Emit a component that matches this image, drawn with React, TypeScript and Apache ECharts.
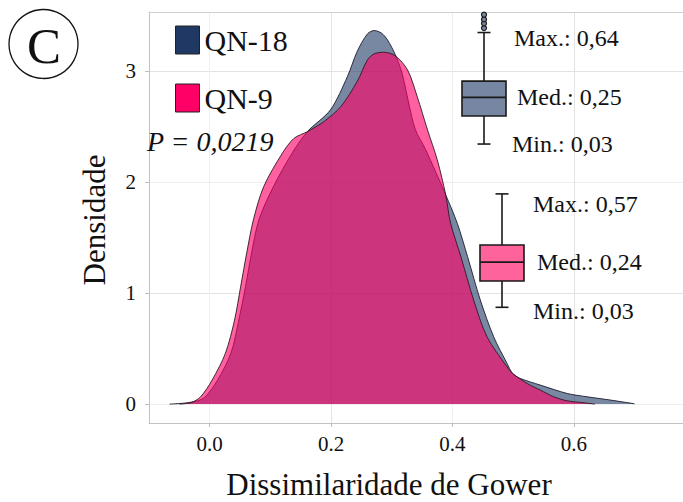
import React, { useEffect, useRef } from "react";
import * as echarts from "echarts";

// Density curve of QN-18 (x = Gower dissimilarity, d = density)
const qn18X = [-0.066, -0.04, -0.02, -0.007, 0.013, 0.035, 0.048, 0.059, 0.069, 0.081, 0.105, 0.136, 0.161, 0.199, 0.227, 0.243, 0.26, 0.271, 0.283, 0.293, 0.306, 0.317, 0.328, 0.339, 0.356, 0.389, 0.408, 0.425, 0.446, 0.468, 0.49, 0.499, 0.512, 0.545, 0.589, 0.622, 0.661, 0.7];
const qn18D = [0, 0.01, 0.03, 0.066, 0.216, 0.459, 0.757, 1.057, 1.36, 1.658, 1.958, 2.261, 2.453, 2.649, 2.949, 3.174, 3.333, 3.363, 3.34, 3.279, 3.144, 2.98, 2.71, 2.47, 2.29, 1.883, 1.628, 1.327, 0.937, 0.606, 0.367, 0.277, 0.231, 0.171, 0.096, 0.066, 0.036, 0.003];

// Density curve of QN-9
const qn9X = [-0.05, -0.03, -0.015, 0.004, 0.026, 0.041, 0.051, 0.061, 0.072, 0.089, 0.12, 0.139, 0.161, 0.188, 0.216, 0.243, 0.26, 0.271, 0.287, 0.306, 0.326, 0.342, 0.359, 0.375, 0.389, 0.397, 0.414, 0.435, 0.457, 0.49, 0.499, 0.523, 0.545, 0.567, 0.589, 0.617, 0.635];
const qn9D = [0, 0.015, 0.066, 0.216, 0.459, 0.757, 1.057, 1.36, 1.658, 1.958, 2.261, 2.393, 2.453, 2.543, 2.678, 2.904, 3.099, 3.153, 3.168, 3.135, 3.009, 2.768, 2.468, 2.2, 1.883, 1.628, 1.327, 0.937, 0.606, 0.336, 0.277, 0.186, 0.126, 0.066, 0.03, 0.012, 0];

const xTicks = [0, 0.2, 0.4, 0.6];
const yTicks = [0, 1, 2, 3];
const seriesNames = ["QN-18", "QN-9"];

// Inset box plots: [lower whisker, Q1, median, Q3, upper whisker]
const qn18Box = [0.03, 0.162, 0.25, 0.327, 0.556];
const qn18Outliers = [0.577, 0.599, 0.618, 0.64];
const qn9Box = [0.03, 0.155, 0.245, 0.327, 0.57];

const boxLabels18 = ["Max.: 0,64", "Med.: 0,25", "Min.: 0,03"];
const boxLabels9 = ["Max.: 0,57", "Med.: 0,24", "Min.: 0,03"];
const pValueText = "P = 0,0219";
const panelLetter = "C";
const xTitle = "Dissimilaridade de Gower";
const yTitle = "Densidade";

const SERIF = "'Liberation Serif', 'Times New Roman', serif";
const INK = "#1a1a1a";

function boxRenderer(halfW: number, capHalf: number, fill: string) {
  return (params: any, api: any) => {
    const pMin = api.coord([0, api.value(1)]);
    const pQ1 = api.coord([0, api.value(2)]);
    const pMed = api.coord([0, api.value(3)]);
    const pQ3 = api.coord([0, api.value(4)]);
    const pMax = api.coord([0, api.value(5)]);
    const x = pMin[0];
    const line = (x1: number, y1: number, x2: number, y2: number) => ({
      type: "line",
      shape: { x1, y1, x2, y2 },
      style: { stroke: INK, lineWidth: 1.6 },
    });
    return {
      type: "group",
      children: [
        line(x, pMin[1], x, pQ1[1]),
        line(x, pQ3[1], x, pMax[1]),
        line(x - capHalf, pMin[1], x + capHalf, pMin[1]),
        line(x - capHalf, pMax[1], x + capHalf, pMax[1]),
        {
          type: "rect",
          shape: { x: x - halfW, y: pQ3[1], width: 2 * halfW, height: pQ1[1] - pQ3[1] },
          style: { fill, stroke: INK, lineWidth: 1.6 },
        },
        line(x - halfW, pMed[1], x + halfW, pMed[1]),
      ],
    };
  };
}

function txt(text: string, x: number, y: number, size: number, opts: any = {}) {
  return {
    type: "text",
    x,
    y,
    rotation: opts.rotation || 0,
    style: {
      text,
      font: `${opts.italic ? "italic " : ""}${size}px ${SERIF}`,
      fill: "#111",
      align: opts.align || "left",
      verticalAlign: "middle",
    },
    z: 100,
  };
}

export default function App() {
  const ref = useRef<HTMLDivElement>(null);
  useEffect(() => {
    if (!ref.current) return;
    const chart = echarts.init(ref.current, undefined, { renderer: "svg" });
    const hiddenAxis = { show: false };
    const option: any = {
      animation: false,
      backgroundColor: "#ffffff",
      grid: [
        { left: 149, top: 12, right: 0, height: 411 },
        { left: 454, top: 2, width: 60, height: 148.4 },
        { left: 472, top: 166.6, width: 60, height: 147 },
      ],
      xAxis: [
        {
          gridIndex: 0,
          type: "value",
          min: -0.1,
          max: 0.78,
          interval: 0.1,
          axisLine: { show: true, onZero: false, lineStyle: { color: "#c2c2c2", width: 1 } },
          axisTick: { show: true, customValues: xTicks, length: 4, lineStyle: { color: "#bdbdbd" } },
          axisLabel: {
            customValues: xTicks,
            formatter: (v: number) => v.toFixed(1),
            fontFamily: SERIF,
            fontSize: 21,
            color: "#111",
            margin: 10,
          },
          splitLine: { show: true, lineStyle: { color: ["#efefef", "#e3e3e3"], width: 1 } },
        },
        {
          gridIndex: 0,
          type: "value",
          position: "top",
          min: -0.1,
          max: 0.78,
          interval: 0.1,
          axisLine: { show: true, onZero: false, lineStyle: { color: "#d0d0d0", width: 1 } },
          axisTick: { show: false },
          axisLabel: { show: false },
          splitLine: { show: false },
        },
        { gridIndex: 1, type: "value", min: -1, max: 1, ...hiddenAxis },
        { gridIndex: 2, type: "value", min: -1, max: 1, ...hiddenAxis },
      ],
      yAxis: [
        {
          gridIndex: 0,
          type: "value",
          min: -0.17,
          max: 3.53,
          splitNumber: 7,
          minInterval: 0.5,
          maxInterval: 0.5,
          axisLine: { show: true, onZero: false, lineStyle: { color: "#c2c2c2", width: 1 } },
          axisTick: { show: true, customValues: yTicks, length: 4, lineStyle: { color: "#bdbdbd" } },
          axisLabel: {
            customValues: yTicks,
            formatter: (v: number) => String(v),
            fontFamily: SERIF,
            fontSize: 21,
            color: "#111",
            margin: 13,
          },
          splitLine: { show: true, lineStyle: { color: ["#efefef", "#e3e3e3"], width: 1 } },
        },
        { gridIndex: 1, type: "value", min: 0, max: 0.7, ...hiddenAxis },
        { gridIndex: 2, type: "value", min: 0, max: 0.7, ...hiddenAxis },
      ],
      legend: {
        left: 170,
        top: 20,
        orient: "vertical",
        icon: "rect",
        itemWidth: 24,
        itemHeight: 28,
        itemGap: 28,
        selectedMode: false,
        textStyle: { fontFamily: SERIF, fontSize: 30, color: "#111" },
        data: [
          { name: seriesNames[0], itemStyle: { color: "#1f3864", borderColor: "#222", borderWidth: 1 } },
          { name: seriesNames[1], itemStyle: { color: "#ff0066", borderColor: "#222", borderWidth: 1 } },
        ],
      },
      series: [
        {
          name: seriesNames[0],
          type: "line",
          xAxisIndex: 0,
          yAxisIndex: 0,
          data: qn18X.map((x, i) => [x, qn18D[i]]),
          smooth: 0.3,
          symbol: "none",
          itemStyle: { color: "#1f3864" },
          lineStyle: { color: "#1c1c2c", width: 0.9 },
          areaStyle: { color: "#1f3864", opacity: 0.6 },
          z: 2,
        },
        {
          name: seriesNames[1],
          type: "line",
          xAxisIndex: 0,
          yAxisIndex: 0,
          data: qn9X.map((x, i) => [x, qn9D[i]]),
          smooth: 0.3,
          symbol: "none",
          itemStyle: { color: "#ff0066" },
          lineStyle: { color: "#2c1a24", width: 0.9 },
          areaStyle: { color: "#ff0066", opacity: 0.62 },
          z: 3,
        },
        {
          type: "custom",
          xAxisIndex: 2,
          yAxisIndex: 1,
          renderItem: boxRenderer(22, 6.5, "#7787a3"),
          data: [[0, ...qn18Box]],
          encode: { x: 0, y: [1, 2, 3, 4, 5] },
          z: 5,
        },
        {
          type: "scatter",
          xAxisIndex: 2,
          yAxisIndex: 1,
          data: qn18Outliers.map((v) => [0, v]),
          symbol: "circle",
          symbolSize: 5,
          itemStyle: { color: "#7787a3", borderColor: INK, borderWidth: 1.2, opacity: 1 },
          z: 6,
        },
        {
          type: "custom",
          xAxisIndex: 3,
          yAxisIndex: 2,
          renderItem: boxRenderer(22, 6.5, "#ff639c"),
          data: [[0, ...qn9Box]],
          encode: { x: 0, y: [1, 2, 3, 4, 5] },
          z: 5,
        },
      ],
      graphic: [
        {
          type: "circle",
          shape: { cx: 43.5, cy: 44, r: 34.5 },
          style: { fill: "none", stroke: "#111", lineWidth: 1.3 },
        },
        txt(panelLetter, 44, 46, 51, { align: "center" }),
        txt(pValueText, 147, 141, 28, { italic: true }),
        txt(boxLabels18[0], 514, 38, 24),
        txt(boxLabels18[1], 517, 97, 24),
        txt(boxLabels18[2], 512, 144, 24),
        txt(boxLabels9[0], 533, 204, 24),
        txt(boxLabels9[1], 537, 262, 24),
        txt(boxLabels9[2], 533, 311, 24),
        txt(xTitle, 389, 484, 31, { align: "center" }),
        txt(yTitle, 94, 220, 31, { align: "center", rotation: Math.PI / 2 }),
      ],
    };
    chart.setOption(option);
    return () => chart.dispose();
  }, []);
  return (
    <div
      ref={ref}
      style={{ position: "fixed", left: 0, top: 0, width: 683, height: 502, background: "#fff" }}
    />
  );
}
